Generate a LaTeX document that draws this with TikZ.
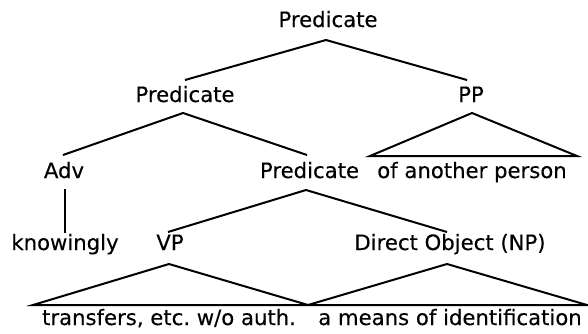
\documentclass[tikz,border=0pt]{standalone}
\usepackage{fontspec}
\setmainfont{DejaVu Sans}[FakeBold=0.25]
\frenchspacing
\begin{document}
\begin{tikzpicture}[x=1pt,y=1pt,
  lbl/.style={anchor=base, inner sep=0pt, font=\fontsize{21.2}{25}\selectfont},
  edge/.style={line width=2pt, line join=miter}]
\useasboundingbox (0,0) rectangle (588,333);

% labels of the tree
\node[lbl] (top)   at (328,306)   {Predicate};
\node[lbl] (p2)    at (185,231)   {Predicate};
\node[lbl] (pp)    at (471,231)   {PP};
\node[lbl] (adv)   at (64,155)    {Adv};
\node[lbl] (p3)    at (309.5,155) {Predicate};
\node[lbl] (pplex) at (472,155)   {of another person};
\node[lbl] (know)  at (65,83)     {knowingly};
\node[lbl] (vp)    at (170,83)    {VP};
\node[lbl] (np)    at (450,83)    {Direct Object (NP)};
\node[lbl] (vplex) at (169,8)     {transfers, etc. w/o auth.};
\node[lbl] (nplex) at (450,8)     {a means of identification};

% branch end points
\coordinate (top-a) at (326,293);
\coordinate (p2-t)  at (185,253);
\coordinate (pp-t)  at (467,253);
\coordinate (p2-a)  at (183,220);
\coordinate (adv-t) at (63,178);
\coordinate (p3-t)  at (307,178);
\coordinate (pp-a)  at (472,220);
\coordinate (pp-l)  at (370,177);
\coordinate (pp-r)  at (577,177);
\coordinate (adv-b) at (65,144);
\coordinate (know-t) at (65,100);
\coordinate (p3-a)  at (306,143);
\coordinate (vp-t)  at (168,101);
\coordinate (np-t)  at (447,101);
\coordinate (vp-a)  at (169,69);
\coordinate (vp-l)  at (33,28);
\coordinate (mid)   at (308,28);
\coordinate (np-a)  at (447,69);
\coordinate (np-r)  at (587,28);

% branches
\draw[edge] (p2-t) -- (top-a) -- (pp-t);
\draw[edge] (adv-t) -- (p2-a) -- (p3-t);
\draw[edge] (pp-l) -- (pp-a) -- (pp-r) -- cycle;
\draw[edge] (adv-b) -- (know-t);
\draw[edge] (vp-t) -- (p3-a) -- (np-t);
\draw[edge] (vp-l) -- (vp-a) -- (mid) -- (np-a) -- (np-r) -- cycle;
\end{tikzpicture}
\end{document}
